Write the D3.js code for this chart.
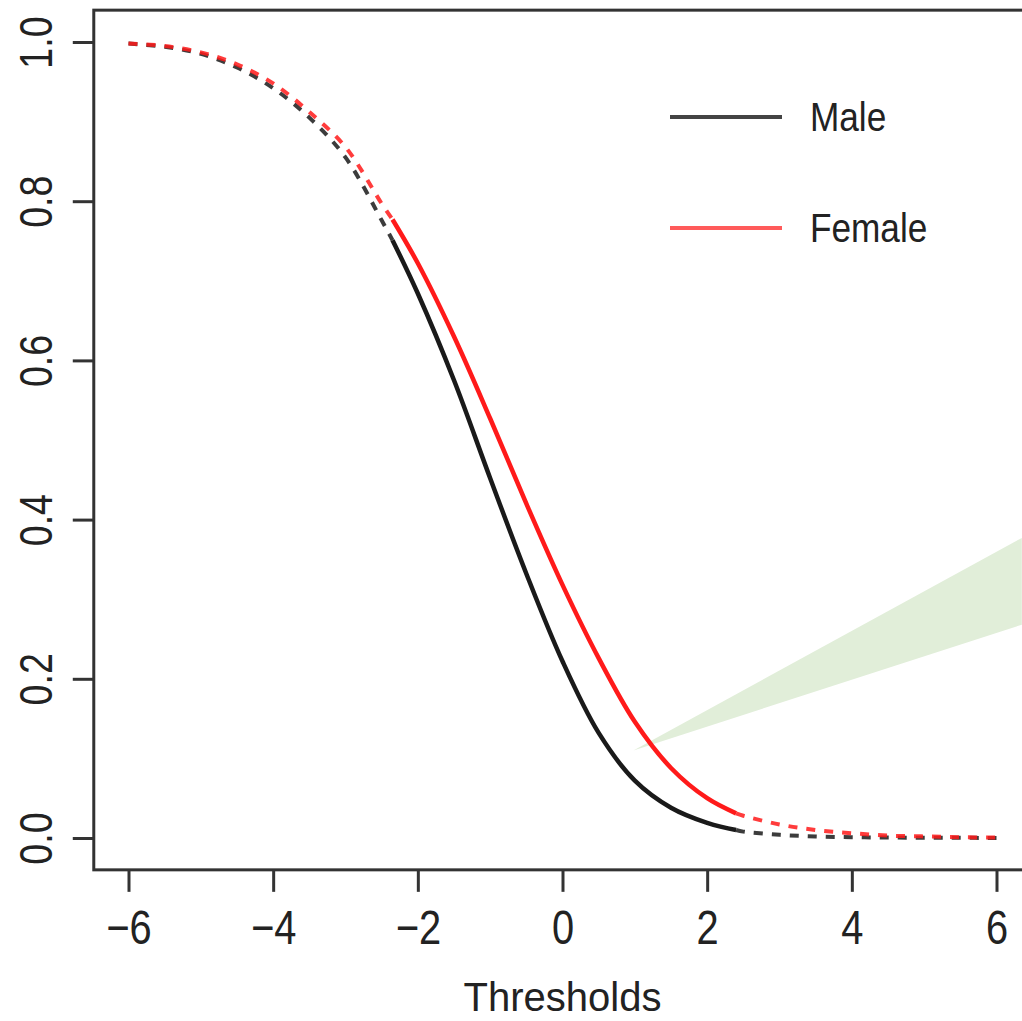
<!doctype html>
<html>
<head>
<meta charset="utf-8">
<script src="https://d3js.org/d3.v7.min.js"></script>
<style>
  body { margin: 0; background: #fff; }
  text { font-family: "Liberation Sans", Arial, sans-serif; fill: #222; }
</style>
</head>
<body>
<script>
// values
var thresholds = [-6, -5.5, -5, -4.5, -4, -3.5, -3, -2.5, -2.35, -2, -1.5, -1, -0.5, 0, 0.5, 1, 1.5, 2, 2.4, 2.5, 3, 3.5, 4, 4.5, 5, 5.5, 6];
var male   = [0.998, 0.994, 0.985, 0.968, 0.942, 0.905, 0.855, 0.776, 0.751, 0.684, 0.575, 0.452, 0.332, 0.222, 0.132, 0.072, 0.038, 0.019, 0.010, 0.008, 0.004, 0.002, 0.001, 0.0006, 0.0003, 0.0002, 0.0001];
var female = [0.998, 0.995, 0.987, 0.972, 0.948, 0.912, 0.868, 0.797, 0.777, 0.722, 0.630, 0.527, 0.420, 0.318, 0.226, 0.146, 0.088, 0.050, 0.031, 0.028, 0.017, 0.010, 0.006, 0.003, 0.002, 0.001, 0.0005];
var solidFrom = -2.35, solidTo = 2.4;
var xTicks = [-6, -4, -2, 0, 2, 4, 6];
var yTicks = [0, 0.2, 0.4, 0.6, 0.8, 1.0];
var seriesNames = ["Male", "Female"];
var seriesColors = ["#1a1a1a", "#ff1a1a"];
var legendColors = ["#444", "#ff5a5a"];
// green callout wedge, in data units
var wedgePts = [[0.98, 0.11], [6.35, 0.377], [6.35, 0.268]];

var width = 1022, height = 1021;
var svg = d3.select("body").append("svg").attr("width", width).attr("height", height);

var x = d3.scaleLinear().domain([-6, 6]).range([128.5, 996.5]);
var y = d3.scaleLinear().domain([0, 1]).range([838, 42]);

// callout wedge
svg.append("path")
  .attr("d", "M" + wedgePts.map(function(p){ return x(p[0]) + "," + y(p[1]); }).join("L") + "Z")
  .attr("fill", "#e1eed9");

var line = d3.line().curve(d3.curveCatmullRom.alpha(0.5))
  .x(function(d){ return x(d[0]); })
  .y(function(d){ return y(d[1]); });

[male, female].forEach(function(vals, i){
  var pts = thresholds.map(function(t, j){ return [t, vals[j]]; });
  var left = pts.filter(function(p){ return p[0] <= solidFrom; });
  var mid = pts.filter(function(p){ return p[0] >= solidFrom && p[0] <= solidTo; });
  var right = pts.filter(function(p){ return p[0] >= solidTo; });
  [left, right].forEach(function(seg){
    svg.append("path").attr("d", line(seg)).attr("fill", "none")
      .attr("stroke", seriesColors[i]).attr("stroke-width", 4)
      .attr("stroke-dasharray", "9,9").attr("opacity", 0.85);
  });
  svg.append("path").attr("d", line(mid)).attr("fill", "none")
    .attr("stroke", seriesColors[i]).attr("stroke-width", 4.5);
});

// box
svg.append("rect")
  .attr("x", x(-6.48)).attr("y", y(1.04))
  .attr("width", x(6.48) - x(-6.48)).attr("height", y(-0.04) - y(1.04))
  .attr("fill", "none").attr("stroke", "#333").attr("stroke-width", 3);

// x axis
var xg = svg.append("g").attr("transform", "translate(0," + y(-0.04) + ")")
  .call(d3.axisBottom(x).tickValues(xTicks).tickSize(22));
xg.select(".domain").remove();
xg.selectAll("line").attr("stroke", "#333").attr("stroke-width", 3);
xg.selectAll("text").attr("y", null).attr("dy", null)
  .attr("transform", "translate(0,74) scale(0.83,1)")
  .attr("text-anchor", "middle")
  .style("font-size", "48px").style("font-family", "Liberation Sans, Arial, sans-serif").attr("fill", "#222");

// y axis
var yg = svg.append("g").attr("transform", "translate(" + x(-6.48) + ",0)")
  .call(d3.axisLeft(y).tickValues(yTicks).tickFormat(d3.format(".1f")).tickSize(21));
yg.select(".domain").remove();
yg.selectAll("line").attr("stroke", "#333").attr("stroke-width", 3);
yg.selectAll("text").attr("x", null).attr("dy", null)
  .attr("transform", "translate(-42,0) rotate(-90) scale(0.8,1)")
  .attr("text-anchor", "middle")
  .style("font-size", "47px").style("font-family", "Liberation Sans, Arial, sans-serif").attr("fill", "#222");

// x label
svg.append("text").attr("x", x(0)).attr("y", 1011).attr("text-anchor", "middle")
  .style("font-size", "40px").text("Thresholds");

// legend
seriesNames.forEach(function(name, i){
  var ly = 117 + i * 111;
  svg.append("line").attr("x1", 670).attr("x2", 782).attr("y1", ly).attr("y2", ly)
    .attr("stroke", legendColors[i]).attr("stroke-width", 4);
  svg.append("text").attr("transform", "translate(810," + (ly + 14) + ") scale(0.88,1)")
    .style("font-size", "40px").text(name);
});
</script>
</body>
</html>
